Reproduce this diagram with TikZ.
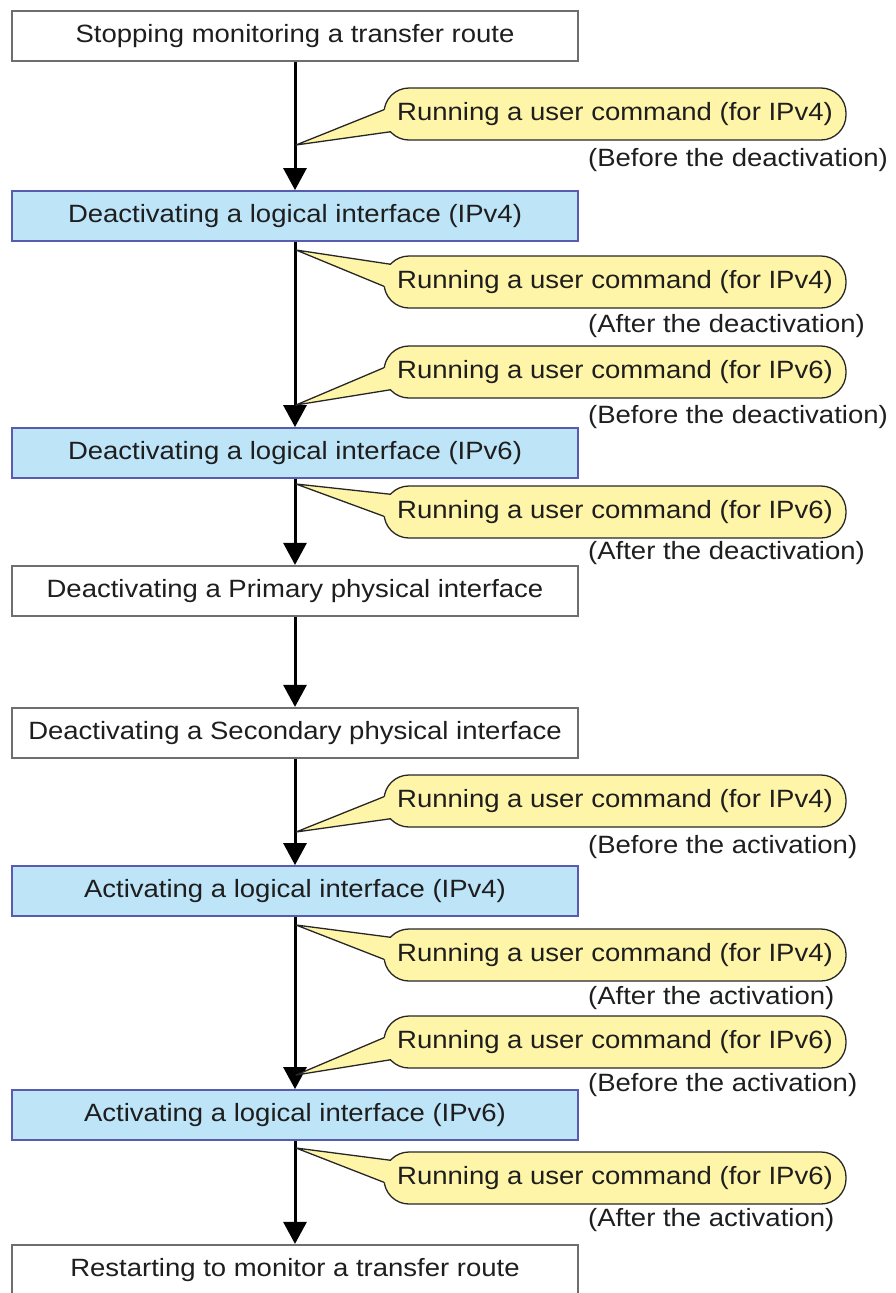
\documentclass[tikz,border=0pt]{standalone}
\usepackage{fontspec}
\setmainfont[FakeStretch=1.1]{Liberation Sans}
\usetikzlibrary{arrows.meta,calc}
\definecolor{boxblue}{RGB}{190,228,248}
\definecolor{boxblueline}{RGB}{88,92,176}
\definecolor{boxgrayline}{RGB}{110,110,110}
\definecolor{calloutfill}{RGB}{255,245,168}
\definecolor{txt}{RGB}{30,30,30}
\newcommand\wedgeBefore[2]{%
  \coordinate (#1a) at ($(#1.west)+(0.6,-4.3)$);
  \coordinate (#1b) at ($(#1.west)+(7.5,17.7)$);
  \fill[calloutfill] (#2) -- (#1a) -- ($(#1a)+(6,1)$) -- ($(#1b)+(3,-3)$) -- (#1b) -- cycle;
  \draw[wedgeline] (#1a) -- (#2) -- (#1b);
}
\newcommand\wedgeAfter[2]{%
  \coordinate (#1a) at ($(#1.west)+(7.5,-17.7)$);
  \coordinate (#1b) at ($(#1.west)+(0.6,4.3)$);
  \fill[calloutfill] (#2) -- (#1a) -- ($(#1a)+(3,3)$) -- ($(#1b)+(6,-1)$) -- (#1b) -- cycle;
  \draw[wedgeline] (#1a) -- (#2) -- (#1b);
}
\begin{document}
\begin{tikzpicture}[x=1pt,y=-1pt,
  font=\fontsize{25}{30}\selectfont, text=txt,
  stepbox/.style={draw=boxgrayline, line width=2.2pt, fill=white, minimum width=566pt, minimum height=50pt, inner sep=0pt},
  bluebox/.style={stepbox, draw=boxblueline, fill=boxblue, line width=1.8pt},
  bubble/.style={draw=black!85, line width=1.3pt, fill=calloutfill, rounded corners=25pt, minimum width=462pt, minimum height=52pt, inner sep=0pt},
  flow/.style={line width=3pt, -{Triangle[width=23pt,length=22pt]}},
  wedgeline/.style={draw=black!85, line width=1.3pt, line join=round},
  note/.style={anchor=west, inner sep=0pt}
]
\useasboundingbox (0,0) rectangle (895,1293);

% boxes
\node[stepbox] (b1) at (295,36) {Stopping monitoring a transfer route};
\node[bluebox] (b2) at (295,216) {Deactivating a logical interface (IPv4)};
\node[bluebox] (b3) at (295,453) {Deactivating a logical interface (IPv6)};
\node[stepbox] (b4) at (295,591) {Deactivating a Primary physical interface};
\node[stepbox] (b5) at (295,733) {Deactivating a Secondary physical interface};
\node[bluebox] (b6) at (295,891) {Activating a logical interface (IPv4)};
\node[bluebox] (b7) at (295,1115) {Activating a logical interface (IPv6)};
\node[stepbox] (b8) at (295,1270) {Restarting to monitor a transfer route};

% flow arrows
\draw[flow] (b1.south) -- (b2.north);
\draw[flow] (b2.south) -- (b3.north);
\draw[flow] (b3.south) -- (b4.north);
\draw[flow] (b4.south) -- (b5.north);
\draw[flow] (b5.south) -- (b6.north);
\draw[flow] (b6.south) -- (b7.north);
\draw[flow] (b7.south) -- (b8.north);

% callout tips on the flow lines
\coordinate (t1) at (296,145);
\coordinate (t2) at (296,250);
\coordinate (t3) at (296,405);
\coordinate (t4) at (296,484);
\coordinate (t5) at (296,832);
\coordinate (t6) at (296,925);
\coordinate (t7) at (296,1075);
\coordinate (t8) at (296,1148);

% callouts
\node[bubble] (c1) at (615,114) {Running a user command (for IPv4)};
\node[bubble] (c2) at (615,282) {Running a user command (for IPv4)};
\node[bubble] (c3) at (615,372) {Running a user command (for IPv6)};
\node[bubble] (c4) at (615,512) {Running a user command (for IPv6)};
\node[bubble] (c5) at (615,801) {Running a user command (for IPv4)};
\node[bubble] (c6) at (615,955) {Running a user command (for IPv4)};
\node[bubble] (c7) at (615,1042) {Running a user command (for IPv6)};
\node[bubble] (c8) at (615,1178) {Running a user command (for IPv6)};

\wedgeBefore{c1}{t1}
\wedgeAfter{c2}{t2}
\wedgeBefore{c3}{t3}
\wedgeAfter{c4}{t4}
\wedgeBefore{c5}{t5}
\wedgeAfter{c6}{t6}
\wedgeBefore{c7}{t7}
\wedgeAfter{c8}{t8}

% timing notes
\node[note] (n1) at (588,160) {(Before the deactivation)};
\node[note] (n2) at (588,326) {(After the deactivation)};
\node[note] (n3) at (588,417) {(Before the deactivation)};
\node[note] (n4) at (588,553) {(After the deactivation)};
\node[note] (n5) at (588,847) {(Before the activation)};
\node[note] (n6) at (588,998) {(After the activation)};
\node[note] (n7) at (588,1085) {(Before the activation)};
\node[note] (n8) at (588,1220) {(After the activation)};
\end{tikzpicture}
\end{document}
